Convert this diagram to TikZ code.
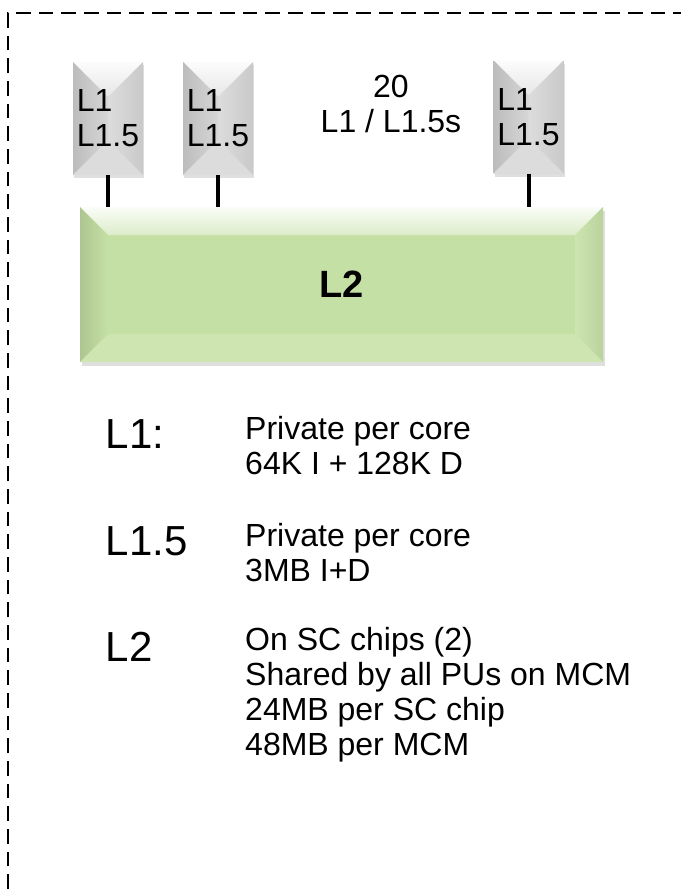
\documentclass[tikz,border=0pt]{standalone}
\usepackage{fontspec}
\setmainfont{Liberation Sans}
\usetikzlibrary{calc, positioning, shadows}
\definecolor{cachegray}{RGB}{214,214,214}
\definecolor{cachegreen}{RGB}{197,224,165}

\begin{document}
\begin{tikzpicture}[x=0.75pt, y=-0.75pt, font=\fontsize{24}{26.25}\selectfont,
    facet/.style 2 args={path picture={
      \coordinate (pnw) at (path picture bounding box.north west);
      \coordinate (pne) at (path picture bounding box.north east);
      \coordinate (psw) at (path picture bounding box.south west);
      \coordinate (pse) at (path picture bounding box.south east);
      \coordinate (qnw) at ([xshift=#1, yshift=-#1]pnw);
      \coordinate (qne) at ([xshift=-#1, yshift=-#1]pne);
      \coordinate (qsw) at ([xshift=#1, yshift=#1]psw);
      \coordinate (qse) at ([xshift=-#1, yshift=#1]pse);
      \shade[top color=white!92!#2, bottom color=#2!60!white] (pnw) -- (pne) -- (qne) -- (qnw) -- cycle;
      \shade[left color=#2!88!black, right color=#2] (pnw) -- (qnw) -- (qsw) -- (psw) -- cycle;
      \shade[left color=#2!85!white, right color=#2!94!black] (pne) -- (qne) -- (qse) -- (pse) -- cycle;
      \fill[#2!85!white] (psw) -- (qsw) -- (qse) -- (pse) -- cycle;}},
    l1box/.style={fill=cachegray, minimum width=52.5pt, minimum height=84.75pt, inner sep=0pt, align=left, drop shadow={shadow xshift=1pt, shadow yshift=-2.5pt, opacity=0.25}, facet={26.25pt}{cachegray}},
    l2box/.style={fill=cachegreen, minimum width=392.25pt, minimum height=116.25pt, drop shadow={shadow xshift=1.5pt, shadow yshift=-3pt, opacity=0.25}, facet={21pt}{cachegreen}, font=\fontsize{28.5}{30}\selectfont\bfseries},
    lvl/.style={anchor=base west, font=\fontsize{31.5}{34}\selectfont},
    note/.style={anchor=base west, align=left},
    link/.style={line width=3pt}]
  \useasboundingbox (0,0) rectangle (681,889);
  \draw[line width=1.1pt, dash pattern=on 11pt off 6pt] (8,889) -- (8,13) -- (681,13);
  % cores and the shared cache
  \node[l1box] (l1a) at (108,118.5) {L1\\L1.5};
  \node[l1box] (l1b) at (218,118.5) {L1\\L1.5};
  \node[l1box] (l1c) at (528.5,117) {L1\\L1.5};
  \node[align=center] (count) at (391,104) {20\\L1 / L1.5s};
  \node[l2box] (l2) at (341.5,284.5) {L2};
  \foreach \c in {l1a,l1b,l1c} {\draw[link] (\c.south) -- (\c.south |- l2.north);}
  % key (base = last line)
  \node[lvl] (lab1) at (101,448) {L1:};
  \node[lvl] (lab15) at (101,555) {L1.5};
  \node[lvl] (lab2) at (101,661) {L2};
  \node[note] (note1) at (240.5,474) {Private per core\\64K I + 128K D};
  \node[note] (note15) at (240.5,581) {Private per core\\3MB I+D};
  \node[note] (note2) at (240.5,755) {On SC chips (2)\\Shared by all PUs on MCM\\24MB per SC chip\\48MB per MCM};
\end{tikzpicture}
\end{document}
